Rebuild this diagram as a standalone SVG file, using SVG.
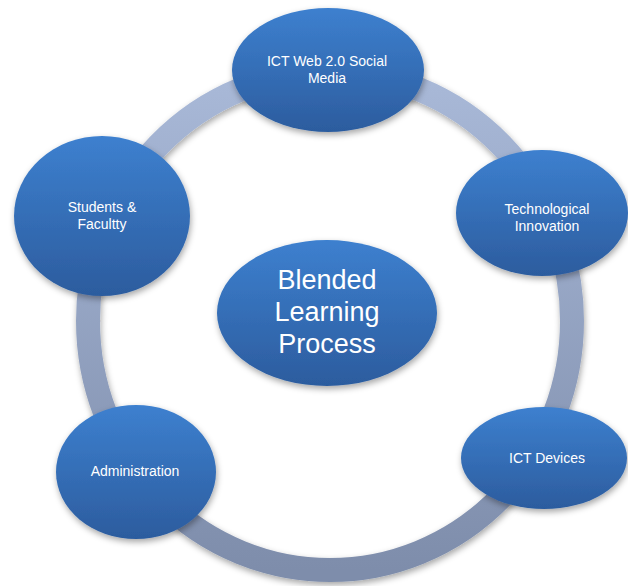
<svg xmlns="http://www.w3.org/2000/svg" width="628" height="586" viewBox="0 0 628 586">
<defs>
<linearGradient id="ringGrad" x1="0" y1="0" x2="0" y2="1">
<stop offset="0" stop-color="#a9b9d8"/>
<stop offset="1" stop-color="#7e8dab"/>
</linearGradient>
<linearGradient id="nodeGrad" x1="0" y1="0" x2="0" y2="1">
<stop offset="0" stop-color="#3d80cf"/>
<stop offset="1" stop-color="#2c5c9e"/>
</linearGradient>
<filter id="shadow" x="-20%" y="-20%" width="140%" height="140%">
<feDropShadow dx="1" dy="3" stdDeviation="3" flood-color="#000" flood-opacity="0.35"/>
</filter>
</defs>
<style>
.node { fill: url(#nodeGrad); filter: url(#shadow); }
.lbl { fill: #ffffff; font-family: "Liberation Sans", Arial, sans-serif; font-size: 14px; text-anchor: middle; }
.big { font-size: 27px; }
</style>
<rect width="628" height="586" fill="#ffffff"/>
<g id="connectors">
<ellipse cx="330" cy="321" rx="242" ry="249" fill="none" stroke="url(#ringGrad)" stroke-width="24" filter="url(#shadow)"/>
</g>
<g id="node-top">
<ellipse class="node" cx="328" cy="70" rx="96" ry="62"/>
<text class="lbl" x="327" y="66">ICT Web 2.0 Social</text>
<text class="lbl" x="327" y="83">Media</text>
</g>
<g id="node-students">
<ellipse class="node" cx="102" cy="216" rx="88" ry="80"/>
<text class="lbl" x="102" y="212">Students &amp;</text>
<text class="lbl" x="102" y="229">Facultty</text>
</g>
<g id="node-tech">
<ellipse class="node" cx="542" cy="213" rx="86" ry="63"/>
<text class="lbl" x="547" y="214">Technological</text>
<text class="lbl" x="547" y="231">Innovation</text>
</g>
<g id="node-devices">
<ellipse class="node" cx="544" cy="458" rx="83" ry="51"/>
<text class="lbl" x="547" y="463">ICT Devices</text>
</g>
<g id="node-admin">
<ellipse class="node" cx="136" cy="472" rx="80" ry="67"/>
<text class="lbl" x="135" y="476">Administration</text>
</g>
<g id="node-center">
<ellipse class="node" cx="327" cy="313" rx="110" ry="73"/>
<text class="lbl big" x="327" y="289">Blended</text>
<text class="lbl big" x="327" y="321">Learning</text>
<text class="lbl big" x="327" y="353">Process</text>
</g>
</svg>
